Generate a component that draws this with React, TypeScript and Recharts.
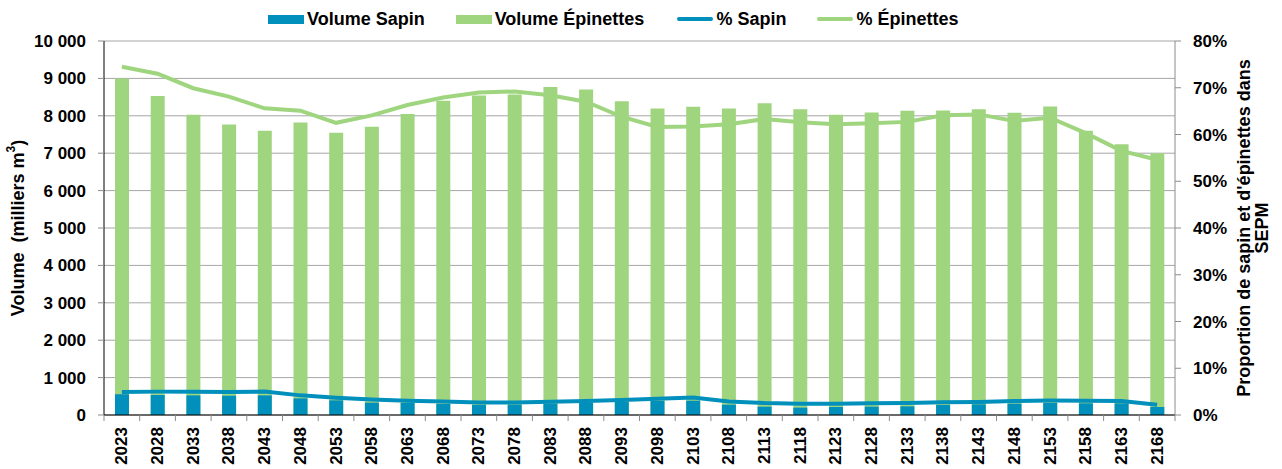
import React from 'react'
import { ComposedChart, Bar, Line, XAxis, YAxis, CartesianGrid } from 'recharts'

const years = [
  '2023', '2028', '2033', '2038', '2043', '2048', '2053', '2058', '2063', '2068',
  '2073', '2078', '2083', '2088', '2093', '2098', '2103', '2108', '2113', '2118',
  '2123', '2128', '2133', '2138', '2143', '2148', '2153', '2158', '2163', '2168',
]

// milliers m3
const volumeSapin = [
  555, 535, 525, 516, 525, 445, 392, 330, 322, 295,
  268, 276, 302, 324, 347, 374, 382, 276, 223, 198,
  214, 223, 232, 267, 285, 303, 321, 312, 312, 214,
]

const volumeEpinettes = [
  9000, 8530, 8030, 7770, 7600, 7820, 7550, 7710, 8050, 8400,
  8540, 8570, 8770, 8700, 8390, 8195, 8240, 8195, 8336, 8177,
  8027, 8090, 8133, 8142, 8177, 8080, 8250, 7600, 7240, 7000,
]

// %
const pctSapin = [
  4.9, 5.0, 4.95, 4.9, 5.0, 4.2, 3.7, 3.3, 3.05, 2.9,
  2.7, 2.7, 2.85, 3.0, 3.2, 3.45, 3.75, 2.9, 2.55, 2.4,
  2.4, 2.5, 2.55, 2.75, 2.8, 3.0, 3.1, 3.05, 3.0, 2.2,
]

const pctEpinettes = [
  74.5, 73.0, 69.9, 68.1, 65.6, 65.1, 62.5, 64.1, 66.3, 67.9,
  69.0, 69.2, 68.4, 67.0, 63.8, 61.6, 61.7, 62.2, 63.3, 62.6,
  62.2, 62.4, 62.7, 64.1, 64.3, 62.9, 63.6, 60.3, 56.5, 54.6,
]

const leftTicks = [0, 1000, 2000, 3000, 4000, 5000, 6000, 7000, 8000, 9000, 10000]
const rightTicks = [0, 10, 20, 30, 40, 50, 60, 70, 80]

const data = years.map((year, i) => ({
  year,
  volumeSapin: volumeSapin[i],
  volumeEpinettes: volumeEpinettes[i],
  pctSapin: pctSapin[i],
  pctEpinettes: pctEpinettes[i],
}))

const BLUE = '#0090bb'
const GREEN = '#a0d57f'
const FONT = '"Liberation Sans", Arial, sans-serif'

const WIDTH = 1282
const HEIGHT = 469
const PLOT_LEFT = 104
const PLOT_RIGHT = 1175
const BAND = (PLOT_RIGHT - PLOT_LEFT) / years.length

const fmtThousands = (v: number) => String(v).replace(/\B(?=(\d{3})+(?!\d))/g, ' ')

function XTick(props: any) {
  const { x, y, payload, index } = props
  const axisY = y - 12
  const last = index === years.length - 1
  return (
    <g>
      <line x1={x - BAND / 2} x2={x - BAND / 2} y1={axisY} y2={axisY + 6} stroke="#8c8c8c" />
      {last && <line x1={x + BAND / 2} x2={x + BAND / 2} y1={axisY} y2={axisY + 6} stroke="#8c8c8c" />}
      <text
        x={x}
        y={y}
        transform={`rotate(-90, ${x}, ${y})`}
        textAnchor="end"
        dominantBaseline="central"
        fontFamily={FONT}
        fontWeight="bold"
        fontSize={17}
        fill="#000"
      >
        {payload.value}
      </text>
    </g>
  )
}

function LegendItem({ kind, color, label, gap }: { kind: 'bar' | 'line'; color: string; label: string; gap: number }) {
  return (
    <div style={{ display: 'flex', alignItems: 'center', marginRight: gap }}>
      <div
        style={{
          width: 36,
          height: kind === 'bar' ? 9 : 4,
          borderRadius: kind === 'line' ? 2 : 0,
          background: color,
          marginRight: 3,
        }}
      />
      <span>{label}</span>
    </div>
  )
}

export default function App() {
  return (
    <div style={{ position: 'absolute', left: 0, top: 0, width: WIDTH, height: HEIGHT, background: '#fff' }}>
      <div
        style={{
          position: 'absolute',
          left: 268,
          top: 8,
          height: 22,
          display: 'flex',
          alignItems: 'center',
          fontFamily: FONT,
          fontWeight: 'bold',
          fontSize: 18,
          color: '#000',
          whiteSpace: 'nowrap',
        }}
      >
        <LegendItem kind="bar" color={BLUE} label="Volume Sapin" gap={31} />
        <LegendItem kind="bar" color={GREEN} label="Volume Épinettes" gap={33} />
        <LegendItem kind="line" color={BLUE} label="% Sapin" gap={31} />
        <LegendItem kind="line" color={GREEN} label="% Épinettes" gap={0} />
      </div>
      <ComposedChart
        width={WIDTH}
        height={HEIGHT}
        data={data}
        margin={{ top: 41, right: 0, bottom: 0, left: 0 }}
        barGap={-14}
        barCategoryGap={0}
      >
        <CartesianGrid horizontal vertical={false} stroke="#a6a6a6" yAxisId="left" />
        <XAxis
          dataKey="year"
          height={54}
          interval={0}
          axisLine={{ stroke: '#000' }}
          tickLine={false}
          tickSize={5}
          tickMargin={7}
          tick={<XTick />}
        />
        <YAxis
          yAxisId="left"
          width={104}
          domain={[0, 10000]}
          ticks={leftTicks}
          interval={0}
          tickFormatter={fmtThousands}
          axisLine={{ stroke: '#000' }}
          tickLine={{ stroke: '#8c8c8c' }}
          tickSize={6}
          tickMargin={12}
          tick={{ fontFamily: FONT, fontWeight: 'bold', fontSize: 17, fill: '#000' }}
          label={{
            content: () => (
              <text
                x={18}
                y={228}
                transform="rotate(-90, 18, 228)"
                textAnchor="middle"
                dominantBaseline="central"
                fontFamily={FONT}
                fontWeight="bold"
                fontSize={18}
                fill="#000"
              >
                Volume{'\u00a0\u00a0'}(milliers m<tspan dy={-7} fontSize={12}>3</tspan>
                <tspan dy={7}>)</tspan>
              </text>
            ),
          }}
        />
        <YAxis
          yAxisId="right"
          orientation="right"
          width={107}
          domain={[0, 80]}
          ticks={rightTicks}
          interval={0}
          tickFormatter={(v: number) => `${v}%`}
          axisLine={{ stroke: '#8c8c8c' }}
          tickLine={{ stroke: '#8c8c8c' }}
          tickSize={6}
          tickMargin={12}
          tick={{ fontFamily: FONT, fontWeight: 'bold', fontSize: 17, fill: '#000' }}
          label={{
            content: () => (
              <g fontFamily={FONT} fontWeight="bold" fontSize={18} fill="#000">
                <text
                  x={1244}
                  y={228}
                  transform="rotate(-90, 1244, 228)"
                  textAnchor="middle"
                  dominantBaseline="central"
                >
                  Proportion de sapin et d'épinettes dans
                </text>
                <text
                  x={1262}
                  y={228}
                  transform="rotate(-90, 1262, 228)"
                  textAnchor="middle"
                  dominantBaseline="central"
                >
                  SEPM
                </text>
              </g>
            ),
          }}
        />
        <Bar yAxisId="left" dataKey="volumeEpinettes" fill={GREEN} barSize={14} isAnimationActive={false} />
        <Bar yAxisId="left" dataKey="volumeSapin" fill={BLUE} barSize={14} isAnimationActive={false} />
        <Line
          yAxisId="right"
          type="linear"
          dataKey="pctSapin"
          stroke={BLUE}
          strokeWidth={4}
          dot={false}
          isAnimationActive={false}
        />
        <Line
          yAxisId="right"
          type="linear"
          dataKey="pctEpinettes"
          stroke={GREEN}
          strokeWidth={4}
          dot={false}
          isAnimationActive={false}
        />
      </ComposedChart>
    </div>
  )
}
